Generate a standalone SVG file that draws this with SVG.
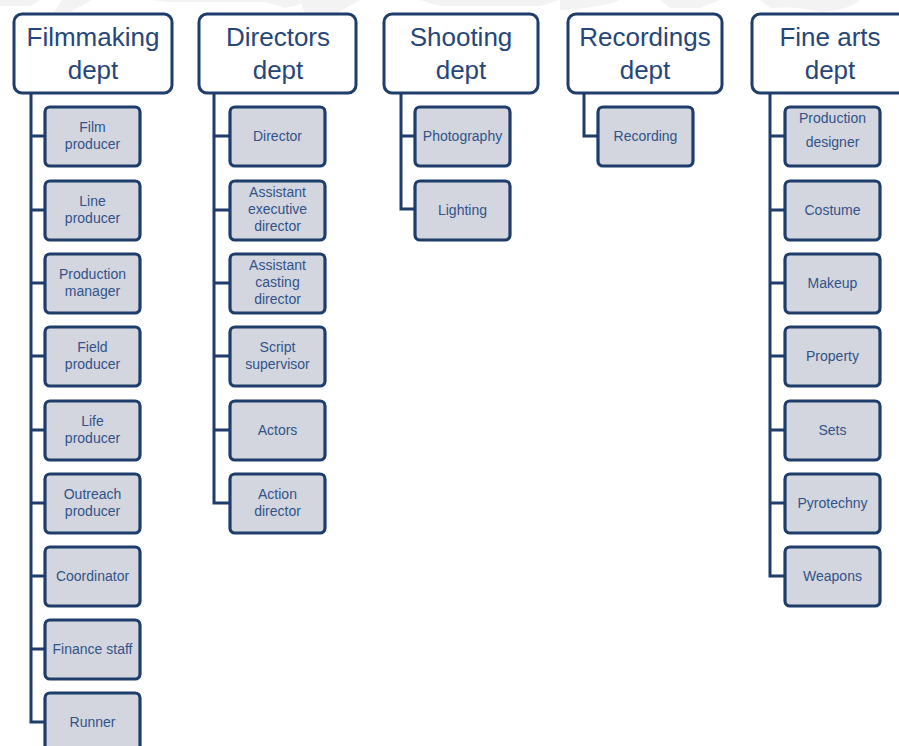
<svg xmlns="http://www.w3.org/2000/svg" width="899" height="746" viewBox="0 0 899 746">
  <style>
    .head rect { fill: #ffffff; stroke: #1f3d6b; stroke-width: 3; }
    .head text { font-family: "Liberation Sans", Arial, sans-serif; font-size: 26px; fill: #26467a; text-anchor: middle; }
    .role rect { fill: #d3d6de; stroke: #1f3d6b; stroke-width: 3.2; }
    .role text { font-family: "Liberation Sans", Arial, sans-serif; font-size: 14px; fill: #31538a; text-anchor: middle; }
    .links path { fill: none; stroke: #1f3d6b; stroke-width: 3; stroke-linejoin: miter; }
    .wm { fill: #f3f3f3; }
  </style>

  <rect width="899" height="746" fill="#ffffff"/>

  <!-- faint background mark along the top edge -->
  <g id="backdrop">
    <path class="wm" d="M0 0 H40 L30 6 H0 Z"/>
    <path class="wm" d="M62 0 H92 L70 12 H54 Z"/>
    <path class="wm" d="M150 0 H310 Q300 5 285 8 L265 2 H170 Z"/>
    <path class="wm" d="M300 0 H360 L335 14 H305 Z"/>
    <path class="wm" d="M420 0 H560 L540 6 H440 Z"/>
    <path class="wm" d="M560 0 H620 Q600 8 560 10 Z"/>
    <path class="wm" d="M660 0 H720 L700 8 H670 Z"/>
    <path class="wm" d="M760 0 H860 Q850 10 820 12 Q800 6 770 8 Z"/>
  </g>

  <g class="links" id="connectors">
    <path d="M31 93 V722 H45 M31 136 H45 M31 210 H45 M31 283 H45 M31 356 H45 M31 430 H45 M31 503 H45 M31 576 H45 M31 649 H45"/>
    <path d="M214 93 V503 H230 M214 136 H230 M214 210 H230 M214 283 H230 M214 356 H230 M214 430 H230"/>
    <path d="M401 93 V209 H415 M401 136 H415"/>
    <path d="M584 93 V136 H598"/>
    <path d="M770 93 V576 H785 M770 136 H785 M770 210 H785 M770 283 H785 M770 356 H785 M770 430 H785 M770 503 H785"/>
  </g>

  <!-- department headers -->
  <g class="head" id="filmmaking-dept">
    <rect x="14" y="14" width="158" height="79" rx="8"/>
    <text x="93" y="46">Filmmaking</text><text x="93" y="79">dept</text>
  </g>
  <g class="head" id="directors-dept">
    <rect x="199" y="14" width="157" height="79" rx="8"/>
    <text x="278" y="46">Directors</text><text x="278" y="79">dept</text>
  </g>
  <g class="head" id="shooting-dept">
    <rect x="384" y="14" width="154" height="79" rx="8"/>
    <text x="461" y="46">Shooting</text><text x="461" y="79">dept</text>
  </g>
  <g class="head" id="recordings-dept">
    <rect x="568" y="14" width="154" height="79" rx="8"/>
    <text x="645" y="46">Recordings</text><text x="645" y="79">dept</text>
  </g>
  <g class="head" id="fine-arts-dept">
    <rect x="752" y="14" width="158" height="79" rx="8"/>
    <text x="830" y="46">Fine arts</text><text x="830" y="79">dept</text>
  </g>

  <!-- Filmmaking dept roles -->
  <g class="role" id="film-producer"><rect x="45" y="107" width="95" height="59" rx="5"/><text x="92.5" y="132">Film</text><text x="92.5" y="149">producer</text></g>
  <g class="role" id="line-producer"><rect x="45" y="181" width="95" height="59" rx="5"/><text x="92.5" y="206">Line</text><text x="92.5" y="223">producer</text></g>
  <g class="role" id="production-manager"><rect x="45" y="254" width="95" height="59" rx="5"/><text x="92.5" y="279">Production</text><text x="92.5" y="296">manager</text></g>
  <g class="role" id="field-producer"><rect x="45" y="327" width="95" height="59" rx="5"/><text x="92.5" y="352">Field</text><text x="92.5" y="369">producer</text></g>
  <g class="role" id="life-producer"><rect x="45" y="401" width="95" height="59" rx="5"/><text x="92.5" y="426">Life</text><text x="92.5" y="443">producer</text></g>
  <g class="role" id="outreach-producer"><rect x="45" y="474" width="95" height="59" rx="5"/><text x="92.5" y="499">Outreach</text><text x="92.5" y="516">producer</text></g>
  <g class="role" id="coordinator"><rect x="45" y="547" width="95" height="59" rx="5"/><text x="92.5" y="581">Coordinator</text></g>
  <g class="role" id="finance-staff"><rect x="45" y="620" width="95" height="59" rx="5"/><text x="92.5" y="654">Finance staff</text></g>
  <g class="role" id="runner"><rect x="45" y="693" width="95" height="59" rx="5"/><text x="92.5" y="727">Runner</text></g>

  <!-- Directors dept roles -->
  <g class="role" id="director"><rect x="230" y="107" width="95" height="59" rx="5"/><text x="277.5" y="141">Director</text></g>
  <g class="role" id="assistant-executive-director"><rect x="230" y="181" width="95" height="59" rx="5"/><text x="277.5" y="197">Assistant</text><text x="277.5" y="214">executive</text><text x="277.5" y="231">director</text></g>
  <g class="role" id="assistant-casting-director"><rect x="230" y="254" width="95" height="59" rx="5"/><text x="277.5" y="270">Assistant</text><text x="277.5" y="287">casting</text><text x="277.5" y="304">director</text></g>
  <g class="role" id="script-supervisor"><rect x="230" y="327" width="95" height="59" rx="5"/><text x="277.5" y="352">Script</text><text x="277.5" y="369">supervisor</text></g>
  <g class="role" id="actors"><rect x="230" y="401" width="95" height="59" rx="5"/><text x="277.5" y="435">Actors</text></g>
  <g class="role" id="action-director"><rect x="230" y="474" width="95" height="59" rx="5"/><text x="277.5" y="499">Action</text><text x="277.5" y="516">director</text></g>

  <!-- Shooting dept roles -->
  <g class="role" id="photography"><rect x="415" y="107" width="95" height="59" rx="5"/><text x="462.5" y="141">Photography</text></g>
  <g class="role" id="lighting"><rect x="415" y="181" width="95" height="59" rx="5"/><text x="462.5" y="215">Lighting</text></g>

  <!-- Recordings dept roles -->
  <g class="role" id="recording"><rect x="598" y="107" width="95" height="59" rx="5"/><text x="645.5" y="141">Recording</text></g>

  <!-- Fine arts dept roles -->
  <g class="role" id="production-designer"><rect x="785" y="107" width="95" height="59" rx="5"/><text x="832.5" y="123">Production</text><text x="832.5" y="147">designer</text></g>
  <g class="role" id="costume"><rect x="785" y="181" width="95" height="59" rx="5"/><text x="832.5" y="215">Costume</text></g>
  <g class="role" id="makeup"><rect x="785" y="254" width="95" height="59" rx="5"/><text x="832.5" y="288">Makeup</text></g>
  <g class="role" id="property"><rect x="785" y="327" width="95" height="59" rx="5"/><text x="832.5" y="361">Property</text></g>
  <g class="role" id="sets"><rect x="785" y="401" width="95" height="59" rx="5"/><text x="832.5" y="435">Sets</text></g>
  <g class="role" id="pyrotechny"><rect x="785" y="474" width="95" height="59" rx="5"/><text x="832.5" y="508">Pyrotechny</text></g>
  <g class="role" id="weapons"><rect x="785" y="547" width="95" height="59" rx="5"/><text x="832.5" y="581">Weapons</text></g>
</svg>
